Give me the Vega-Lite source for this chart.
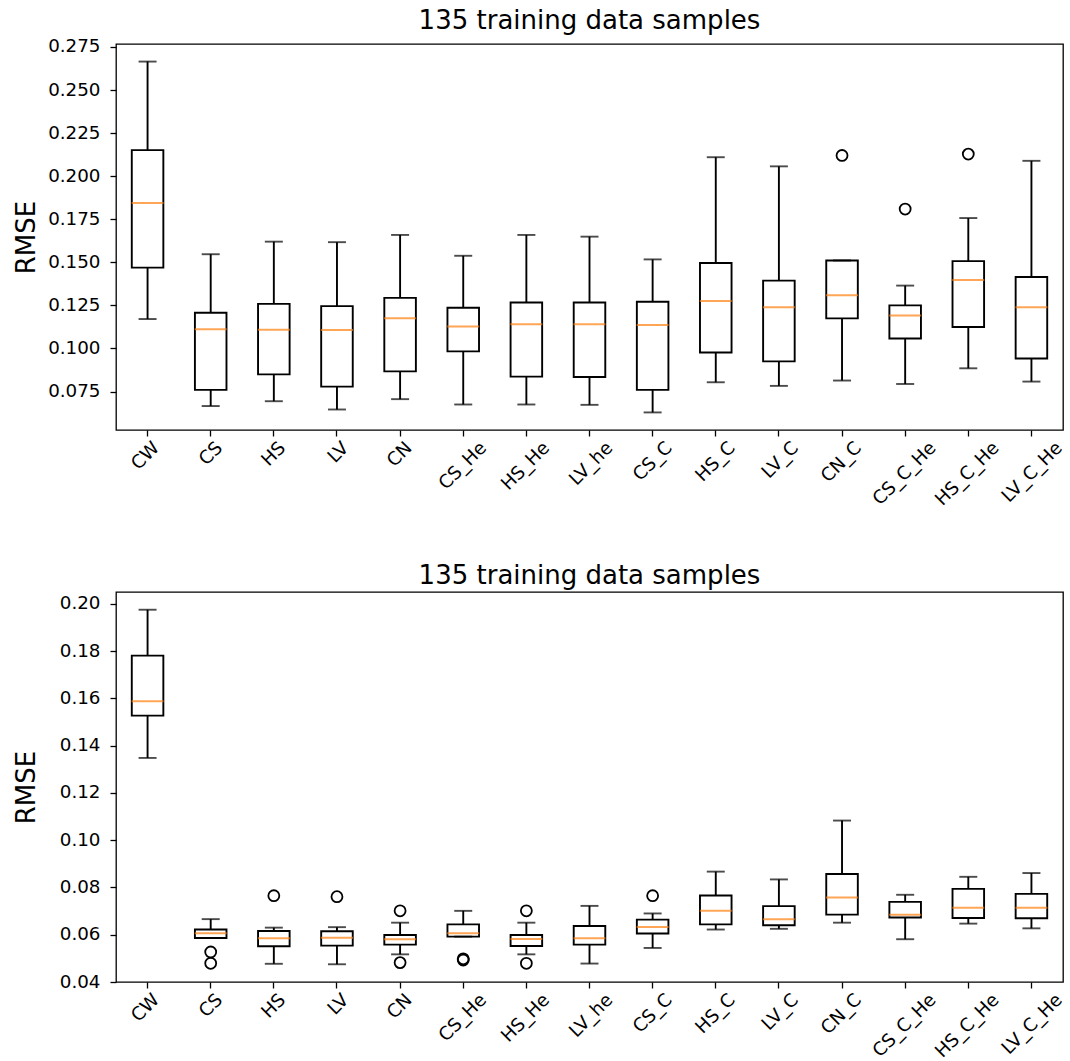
{
  "$schema": "https://vega.github.io/schema/vega-lite/v6.json",
  "padding": {"left": 13, "top": 7, "right": 5, "bottom": 5},
  "spacing": 52,
  "background": "white",
  "config": {
    "view": {"stroke": "#000000", "strokeWidth": 1.3},
    "font": "DejaVu Sans",
    "title": {"font": "DejaVu Sans", "fontSize": 26, "fontWeight": "normal", "color": "#000000", "offset": 3},
    "axis": {
      "labelFont": "DejaVu Sans", "labelFontSize": 18.3, "labelColor": "#000000",
      "titleFont": "DejaVu Sans", "titleFontWeight": "normal", "titleColor": "#000000",
      "tickColor": "#000000", "tickSize": 6, "tickWidth": 1.3, "domain": false, "grid": false
    }
  },
  "datasets": {
    "top": [
      {"cat": "CW", "lo": 0.1171, "q1": 0.1469, "med": 0.1845, "q3": 0.2151, "hi": 0.2665},
      {"cat": "CS", "lo": 0.0666, "q1": 0.0760, "med": 0.1111, "q3": 0.1207, "hi": 0.1547},
      {"cat": "HS", "lo": 0.0694, "q1": 0.0850, "med": 0.1109, "q3": 0.1259, "hi": 0.1620},
      {"cat": "LV", "lo": 0.0646, "q1": 0.0779, "med": 0.1107, "q3": 0.1246, "hi": 0.1617},
      {"cat": "CN", "lo": 0.0706, "q1": 0.0867, "med": 0.1175, "q3": 0.1294, "hi": 0.1659},
      {"cat": "CS_He", "lo": 0.0675, "q1": 0.0983, "med": 0.1127, "q3": 0.1236, "hi": 0.1538},
      {"cat": "HS_He", "lo": 0.0675, "q1": 0.0837, "med": 0.1140, "q3": 0.1267, "hi": 0.1659},
      {"cat": "LV_he", "lo": 0.0673, "q1": 0.0835, "med": 0.1140, "q3": 0.1267, "hi": 0.1649},
      {"cat": "CS_C", "lo": 0.0629, "q1": 0.0760, "med": 0.1136, "q3": 0.1271, "hi": 0.1517},
      {"cat": "HS_C", "lo": 0.0804, "q1": 0.0977, "med": 0.1275, "q3": 0.1496, "hi": 0.2110},
      {"cat": "LV_C", "lo": 0.0783, "q1": 0.0925, "med": 0.1240, "q3": 0.1394, "hi": 0.2057},
      {"cat": "CN_C", "lo": 0.0814, "q1": 0.1175, "med": 0.1309, "q3": 0.1511, "hi": 0.1511},
      {"cat": "CS_C_He", "lo": 0.0794, "q1": 0.1058, "med": 0.1192, "q3": 0.1250, "hi": 0.1365},
      {"cat": "HS_C_He", "lo": 0.0885, "q1": 0.1125, "med": 0.1398, "q3": 0.1507, "hi": 0.1757},
      {"cat": "LV_C_He", "lo": 0.0808, "q1": 0.0942, "med": 0.1240, "q3": 0.1415, "hi": 0.2089}
    ],
    "topOut": [
      {"cat": "CN_C", "v": 0.2120},
      {"cat": "CS_C_He", "v": 0.1809},
      {"cat": "HS_C_He", "v": 0.2128}
    ],
    "bottom": [
      {"cat": "CW", "lo": 0.1348, "q1": 0.1527, "med": 0.1588, "q3": 0.1781, "hi": 0.1975},
      {"cat": "CS", "lo": 0.0586, "q1": 0.0586, "med": 0.0606, "q3": 0.0622, "hi": 0.0666},
      {"cat": "HS", "lo": 0.0477, "q1": 0.0551, "med": 0.0585, "q3": 0.0616, "hi": 0.0630},
      {"cat": "LV", "lo": 0.0475, "q1": 0.0554, "med": 0.0587, "q3": 0.0615, "hi": 0.0632},
      {"cat": "CN", "lo": 0.0517, "q1": 0.0558, "med": 0.0581, "q3": 0.0599, "hi": 0.0651},
      {"cat": "CS_He", "lo": 0.0592, "q1": 0.0592, "med": 0.0606, "q3": 0.0644, "hi": 0.0701},
      {"cat": "HS_He", "lo": 0.0517, "q1": 0.0552, "med": 0.0582, "q3": 0.0599, "hi": 0.0651},
      {"cat": "LV_he", "lo": 0.0478, "q1": 0.0558, "med": 0.0585, "q3": 0.0637, "hi": 0.0722},
      {"cat": "CS_C", "lo": 0.0544, "q1": 0.0605, "med": 0.0633, "q3": 0.0664, "hi": 0.0690},
      {"cat": "HS_C", "lo": 0.0622, "q1": 0.0644, "med": 0.0701, "q3": 0.0766, "hi": 0.0867},
      {"cat": "LV_C", "lo": 0.0625, "q1": 0.0640, "med": 0.0666, "q3": 0.0721, "hi": 0.0834},
      {"cat": "CN_C", "lo": 0.0651, "q1": 0.0685, "med": 0.0758, "q3": 0.0857, "hi": 0.1083},
      {"cat": "CS_C_He", "lo": 0.0581, "q1": 0.0673, "med": 0.0684, "q3": 0.0739, "hi": 0.0769},
      {"cat": "HS_C_He", "lo": 0.0647, "q1": 0.0671, "med": 0.0714, "q3": 0.0794, "hi": 0.0845},
      {"cat": "LV_C_He", "lo": 0.0627, "q1": 0.0670, "med": 0.0714, "q3": 0.0773, "hi": 0.0861}
    ],
    "bottomOut": [
      {"cat": "CS", "v": 0.0527},
      {"cat": "CS", "v": 0.0479},
      {"cat": "HS", "v": 0.0765},
      {"cat": "LV", "v": 0.0761},
      {"cat": "CN", "v": 0.0701},
      {"cat": "CN", "v": 0.0482},
      {"cat": "CS_He", "v": 0.0498},
      {"cat": "CS_He", "v": 0.0493},
      {"cat": "HS_He", "v": 0.0701},
      {"cat": "HS_He", "v": 0.0479},
      {"cat": "CS_C", "v": 0.0765}
    ]
  },
  "vconcat": [
    {
      "title": "135 training data samples",
      "width": 947,
      "height": 386,
      "encoding": {
        "x": {
          "field": "cat", "type": "nominal",
          "scale": {"type": "band", "paddingInner": 0.5, "paddingOuter": 0.25,
            "domain": ["CW","CS","HS","LV","CN","CS_He","HS_He","LV_he","CS_C","HS_C","LV_C","CN_C","CS_C_He","HS_C_He","LV_C_He"]},
          "axis": {"title": null, "labelAngle": -45, "labelAlign": "right", "labelBaseline": "middle", "labelPadding": 9,
            "labelOffset": {"expr": "1.6 + 3.8*length(datum.label)"}}
        }
      },
      "layer": [
        {"data": {"name": "top"}, "mark": {"type": "rule", "color": "#000000", "strokeWidth": 1.9},
          "encoding": {"y": {"field": "lo", "type": "quantitative",
            "scale": {"domain": [0.0527, 0.2767], "nice": false, "zero": false},
            "axis": {"title": "RMSE", "titleFontSize": 26, "values": [0.075,0.1,0.125,0.15,0.175,0.2,0.225,0.25,0.275], "format": ".3f", "titlePadding": 8, "labelPadding": 10}},
            "y2": {"field": "hi"}}},
        {"data": {"name": "top"}, "mark": {"type": "bar", "fill": "#ffffff", "stroke": "#000000", "strokeWidth": 1.9},
          "encoding": {"y": {"field": "q1", "type": "quantitative"}, "y2": {"field": "q3"}}},
        {"data": {"name": "top"}, "mark": {"type": "tick", "color": "#ff7f0e", "thickness": 2, "size": 32},
          "encoding": {"y": {"field": "med", "type": "quantitative"}}},
        {"data": {"name": "top"}, "mark": {"type": "tick", "color": "#000000", "thickness": 1.9, "size": 18},
          "encoding": {"y": {"field": "lo", "type": "quantitative"}}},
        {"data": {"name": "top"}, "mark": {"type": "tick", "color": "#000000", "thickness": 1.9, "size": 18},
          "encoding": {"y": {"field": "hi", "type": "quantitative"}}},
        {"data": {"name": "topOut"}, "mark": {"type": "point", "shape": "circle", "filled": false, "stroke": "#000000", "strokeWidth": 1.8, "size": 120, "opacity": 1},
          "encoding": {"y": {"field": "v", "type": "quantitative"}}}
      ]
    },
    {
      "title": "135 training data samples",
      "width": 947,
      "height": 390,
      "encoding": {
        "x": {
          "field": "cat", "type": "nominal",
          "scale": {"type": "band", "paddingInner": 0.5, "paddingOuter": 0.25,
            "domain": ["CW","CS","HS","LV","CN","CS_He","HS_He","LV_he","CS_C","HS_C","LV_C","CN_C","CS_C_He","HS_C_He","LV_C_He"]},
          "axis": {"title": null, "labelAngle": -45, "labelAlign": "right", "labelBaseline": "middle", "labelPadding": 9,
            "labelOffset": {"expr": "1.6 + 3.8*length(datum.label)"}}
        }
      },
      "layer": [
        {"data": {"name": "bottom"}, "mark": {"type": "rule", "color": "#000000", "strokeWidth": 1.9},
          "encoding": {"y": {"field": "lo", "type": "quantitative",
            "scale": {"domain": [0.04, 0.205], "nice": false, "zero": false},
            "axis": {"title": "RMSE", "titleFontSize": 26, "values": [0.04,0.06,0.08,0.1,0.12,0.14,0.16,0.18,0.2], "format": ".2f", "titlePadding": 19.6, "labelPadding": 10}},
            "y2": {"field": "hi"}}},
        {"data": {"name": "bottom"}, "mark": {"type": "bar", "fill": "#ffffff", "stroke": "#000000", "strokeWidth": 1.9},
          "encoding": {"y": {"field": "q1", "type": "quantitative"}, "y2": {"field": "q3"}}},
        {"data": {"name": "bottom"}, "mark": {"type": "tick", "color": "#ff7f0e", "thickness": 2, "size": 32},
          "encoding": {"y": {"field": "med", "type": "quantitative"}}},
        {"data": {"name": "bottom"}, "mark": {"type": "tick", "color": "#000000", "thickness": 1.9, "size": 18},
          "encoding": {"y": {"field": "lo", "type": "quantitative"}}},
        {"data": {"name": "bottom"}, "mark": {"type": "tick", "color": "#000000", "thickness": 1.9, "size": 18},
          "encoding": {"y": {"field": "hi", "type": "quantitative"}}},
        {"data": {"name": "bottomOut"}, "mark": {"type": "point", "shape": "circle", "filled": false, "stroke": "#000000", "strokeWidth": 1.8, "size": 120, "opacity": 1},
          "encoding": {"y": {"field": "v", "type": "quantitative"}}}
      ]
    }
  ]
}
